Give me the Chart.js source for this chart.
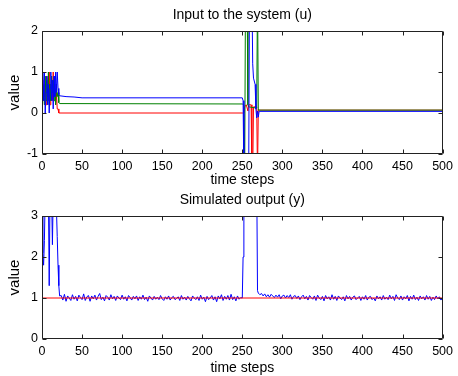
<!DOCTYPE html>
<html><head><meta charset="utf-8">
<script src="https://cdn.jsdelivr.net/npm/chart.js@4"></script>
<style>
html,body{margin:0;padding:0;background:#fff;width:458px;height:376px;overflow:hidden}
.w{position:absolute;left:0;width:458px;height:188px}
</style></head><body>
<div class="w" style="top:0"><canvas id="cu"></canvas></div>
<div class="w" style="top:188px"><canvas id="cy"></canvas></div>
<script>
// ---------- DATA ----------
const xTicks = [0,50,100,150,200,250,300,350,400,450,500];
const uTicks = [-1,0,1,2];
const yTicks = [0,1,2,3];

// Input to the system (u)
const uBlueSteps = [0,1,2,3,4,5,6,7,8,9,10,11,12,13,14,15,16,17,18,19,20,21,22,30,40,50,250,251,252,258,259,262,263,264,266,267,268,269,270,271,500];
const uBlueVals  = [0.6,1.0,0.3,1.0,0.0,0.5,0.9,0.2,0.7,0.0,0.6,1.0,0.3,0.8,0.1,0.9,0.4,1.0,0.5,1.0,0.6,0.45,0.42,0.40,0.39,0.37,0.37,0.3,-1.5,-1.5,3,3,1.2,0.85,0.7,0.1,-0.12,0.05,-0.1,0.04,0.04];
const uGreenSteps = [0,1,2,3,4,5,6,7,8,9,10,11,12,13,14,15,16,17,18,19,20,21,22,250,252,253,254,256,257,258,268,269,270,500];
const uGreenVals  = [0.4,0.7,0.5,0.2,0.9,0.3,0.8,0.4,1.0,0.2,0.7,0.3,0.9,0.5,0.8,0.3,0.6,0.2,0.7,0.4,0.5,0.25,0.23,0.22,0.2,-1.5,3,3,0.2,0.15,0.12,3,0.07,0.07];
const uRedSteps = [0,1,2,3,4,5,6,7,8,9,10,11,12,13,14,15,16,17,18,19,20,21,250,252,253,255,257,258,261,262,263,264,268,269,270,272,500];
const uRedVals  = [0.8,0.3,0.6,0.4,0.7,0.2,0.9,0.5,0.3,1.0,0.2,0.6,0.9,0.3,1.0,0.4,0.7,0.2,0.5,0.1,0.1,0.0,0.0,0.0,0.15,0.2,0.05,0.2,0.2,-1.5,-1.5,0.15,0.15,-1.5,0.08,0.07,0.07];

// Simulated output (y)
const refSteps = [0,500];
const refVals  = [1,1];
const outHeadSteps = [0,1,2,3,4,5,6,7,8,9,10,11,12,13,14,15,16,17,18,19,20,21,22];
const outHeadVals  = [3.5,2.1,1.8,2.4,3.5,3.5,3.5,3.5,3.5,1.3,3.5,3.5,3.5,2.3,3.5,3.5,3.5,3.5,3.2,2.5,1.8,1.3,1.05];
const outNoiseAStart = 24, outNoiseStride = 2;
const outNoiseA = [
1.06,0.95,1.09,0.92,1.05,1.00,0.94,1.08,0.97,1.04,0.93,1.07,1.01,0.96,1.10,0.94,1.03,1.06,0.92,1.05,
0.98,1.07,0.95,1.04,1.11,0.96,1.02,0.93,1.06,1.02,0.95,1.08,0.98,1.04,0.94,1.05,1.00,0.96,1.07,0.97,
1.03,0.93,1.06,1.01,0.95,1.04,0.98,1.05,0.94,1.03,0.97,1.07,0.96,1.02,0.92,1.05,1.00,0.95,1.04,0.97,
1.02,0.96,1.06,0.98,0.94,1.03,0.97,1.05,0.95,1.01,1.04,0.96,0.99,1.03,0.94,1.06,0.97,1.02,0.95,1.04,
0.98,0.93,1.05,1.00,0.96,1.03,0.94,1.07,0.97,1.02,0.91,1.04,0.96,1.00,1.06,0.95,1.03,0.91,1.05,0.98,
1.08,0.94,1.04,0.97,1.06,0.95,1.09,0.96,1.03,0.93,1.05,0.97,1.01];
const outSpikeSteps = [250,251,252,268,269,270,272];
const outSpikeVals  = [1.0,2.0,4.0,4.0,1.18,1.12,1.08];
const outNoiseBStart = 274;
const outNoiseB = [
1.11,1.05,1.10,1.03,1.08,1.02,1.09,1.05,1.01,1.07,1.02,1.08,0.98,1.05,1.07,1.00,1.06,1.01,1.08,0.97,
1.04,1.06,0.99,1.05,0.96,1.03,1.07,0.98,1.04,0.95,1.06,1.01,0.97,1.05,0.94,1.07,1.00,0.96,1.04,0.93,
1.06,0.98,1.03,0.95,1.08,0.97,1.04,0.94,1.05,1.00,0.96,1.03,0.93,1.06,0.98,1.04,0.95,1.02,1.05,0.96,
1.00,1.04,0.94,1.03,0.97,1.06,0.95,1.02,1.04,0.96,1.00,0.93,1.05,0.98,1.03,0.95,1.06,0.97,1.02,0.96,
1.07,0.98,1.04,0.94,1.08,1.00,0.96,1.05,0.95,1.03,0.98,1.06,0.93,1.04,0.97,1.07,0.96,1.02,0.94,1.05,
0.98,1.03,0.95,1.06,0.97,1.04,0.94,1.02,0.96,1.05,0.98,1.03,0.95,1.00];

// ---------- BUILD ----------
const pts = (xs, ys) => xs.map((x, i) => ({x, y: ys[i]}));
const noisePts = (start, vals) => vals.map((v, i) => ({x: start + i * outNoiseStride, y: v}));
const outPoints = [].concat(
  pts(outHeadSteps, outHeadVals),
  noisePts(outNoiseAStart, outNoiseA),
  pts(outSpikeSteps, outSpikeVals),
  noisePts(outNoiseBStart, outNoiseB)
);

const FONT = '"Liberation Sans", Arial, sans-serif';

function matlabPlugin(title) {
  return {
    id: 'matlab',
    afterDraw(chart) {
      const {ctx, chartArea: a, scales: {x, y}} = chart;
      ctx.save();
      ctx.strokeStyle = '#222';
      ctx.lineWidth = 1;
      const L = Math.round(a.left) + 0.5, R = Math.round(a.right) - 0.5;
      const T = Math.round(a.top) + 0.5, B = Math.round(a.bottom) - 0.5;
      ctx.beginPath();
      ctx.rect(L, T, R - L, B - T);
      xTicks.forEach(v => {
        const px = Math.round(x.getPixelForValue(v)) + 0.5;
        ctx.moveTo(px, B); ctx.lineTo(px, B - 4);
        ctx.moveTo(px, T); ctx.lineTo(px, T + 4);
      });
      y.ticks.forEach(t => {
        const py = Math.round(y.getPixelForValue(t.value)) + 0.5;
        ctx.moveTo(L, py); ctx.lineTo(L + 4, py);
        ctx.moveTo(R, py); ctx.lineTo(R - 4, py);
      });
      ctx.stroke();
      ctx.fillStyle = '#000';
      ctx.font = '14px ' + FONT;
      ctx.textAlign = 'center';
      ctx.textBaseline = 'middle';
      ctx.fillText(title, (a.left + a.right) / 2, a.top - 16);
      ctx.fillText('time steps', (a.left + a.right) / 2, chart.height - 8);
      ctx.font = '15px ' + FONT;
      ctx.translate(15, (a.top + a.bottom) / 2);
      ctx.rotate(-Math.PI / 2);
      ctx.fillText('value', 0, 0);
      ctx.restore();
    }
  };
}

function makeChart(id, datasets, yMin, yMax, tickVals, padTop, xHeight, title) {
  return new Chart(document.getElementById(id), {
    type: 'line',
    data: {datasets},
    options: {
      responsive: true, maintainAspectRatio: false, animation: false,
      layout: {padding: {top: padTop, right: 10, left: 0, bottom: 0}},
      plugins: {legend: {display: false}, tooltip: {enabled: false}, title: {display: false}},
      elements: {point: {radius: 0}, line: {borderWidth: 1, tension: 0}},
      scales: {
        x: {
          type: 'linear', min: 0, max: 500,
          afterBuildTicks: s => { s.ticks = xTicks.map(v => ({value: v})); },
          afterFit: s => { s.height = xHeight; },
          grid: {display: false, drawTicks: false},
          border: {display: false},
          ticks: {color: '#000', font: {size: 12.5, family: FONT}, padding: 5, maxRotation: 0, autoSkip: false}
        },
        y: {
          type: 'linear', min: yMin, max: yMax,
          afterBuildTicks: s => { s.ticks = tickVals.map(v => ({value: v})); },
          afterFit: s => { s.width = 42; },
          grid: {display: false, drawTicks: false},
          border: {display: false},
          ticks: {color: '#000', font: {size: 12.5, family: FONT}, padding: 4}
        }
      }
    },
    plugins: [matlabPlugin(title)]
  });
}

makeChart('cu', [
  {data: pts(uBlueSteps, uBlueVals), borderColor: '#0000ff', order: 0},
  {data: pts(uGreenSteps, uGreenVals), borderColor: '#008000', order: 1},
  {data: pts(uRedSteps, uRedVals), borderColor: '#ff0000', order: 2}
], -1, 2, uTicks, 31, 34, 'Input to the system (u)');

makeChart('cy', [
  {data: pts(refSteps, refVals), borderColor: '#ff0000', order: 0},
  {data: outPoints, borderColor: '#0000ff', order: 1}
], 0, 3, yTicks, 28, 37, 'Simulated output (y)');
</script>
</body></html>
